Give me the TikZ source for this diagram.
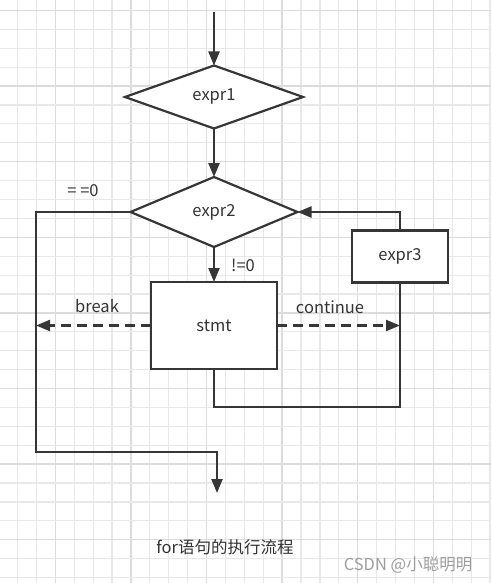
\documentclass[tikz,border=0pt]{standalone}
\usepackage{fontspec}
\setmainfont{Noto Sans CJK SC}
\usetikzlibrary{shapes.geometric,arrows.meta}

\definecolor{linegray}{HTML}{363636}
\definecolor{textgray}{HTML}{333333}
\definecolor{gridminor}{HTML}{E8E8E8}
\definecolor{gridmajor}{HTML}{DCDCDC}

\tikzset{
  flowline/.style={draw=linegray, line width=2.2pt},
  flowarrow/.style={flowline, -{Triangle[length=14pt,width=11pt]}},
  breakline/.style={flowarrow, dash pattern=on 10pt off 6pt},
  decision/.style={diamond, draw=linegray, line width=2.2pt, fill=white, inner sep=0pt, outer sep=0pt, text=textgray},
  stepbox/.style={rectangle, draw=linegray, line width=2.2pt, fill=white, inner sep=0pt, outer sep=0pt, text=textgray},
  tag/.style={text=textgray, inner sep=0pt}
}

\begin{document}
\begin{tikzpicture}[x=1pt, y=-1pt, font=\fontsize{16.5pt}{19pt}\selectfont]
  \useasboundingbox (0,0) rectangle (491,583);
  \fill[white] (0,0) rectangle (491,583);

  %	grid paper
  \foreach \k in {0,...,25} {
    \pgfmathparse{int(mod(\k,4))}
    \ifnum\pgfmathresult=2
      \draw[gridmajor, line width=1.4pt] ({17.5+18.9*\k}, 0) -- ({17.5+18.9*\k}, 583);
    \else
      \draw[gridminor, line width=1.2pt] ({17.5+18.9*\k}, 0) -- ({17.5+18.9*\k}, 583);
    \fi
  }
  \foreach \k in {0,...,30} {
    \pgfmathparse{int(mod(\k,4))}
    \ifnum\pgfmathresult=0
      \draw[gridmajor, line width=1.4pt] (0, {10.5+18.9*\k}) -- (491, {10.5+18.9*\k});
    \else
      \draw[gridminor, line width=1.2pt] (0, {10.5+18.9*\k}) -- (491, {10.5+18.9*\k});
    \fi
  }

  %	blocks
  \node[decision, minimum width=178pt, minimum height=63pt] (expr1) at (214, 97) {expr1};
  \node[decision, minimum width=167pt, minimum height=70pt] (expr2) at (214, 212) {expr2};
  \node[stepbox, minimum width=126pt, minimum height=87pt] (stmt) at (214, 325.5) {stmt};
  \node[stepbox, minimum width=96pt, minimum height=52pt] (expr3) at (400, 256.5) {expr3};

  \coordinate (entry) at (214, 12);
  \coordinate (exitcorner) at (36, 452);% bottom left corner
  \coordinate (exit) at (217, 493);

  %	main flow
  \draw[flowarrow] (entry) -- (expr1.north);
  \draw[flowarrow] (expr1.south) -- (expr2.north);
  \draw[flowarrow] (expr2.south) -- (stmt.north);

  %	loop back through expr3
  \draw[flowline] (stmt.south) -- ++(0, 38) -| (expr3.south);
  \draw[flowarrow] (expr3.north) |- (expr2.east);

  %	leaving the loop
  \draw[flowarrow] (expr2.west) -| (exitcorner) -| (exit);

  %	break and continue
  \draw[breakline] (stmt.west) -- (exitcorner |- stmt.west);
  \draw[breakline] (stmt.east) -- (expr3.south |- stmt.east);

  %	labels
  \node[tag] (zero) at (83, 191) {= =0};
  \node[tag] (nonzero) at (243, 265) {!=0};
  \node[tag] (brk) at (97, 306) {break};
  \node[tag] (cont) at (330, 307) {continue};
  \node[tag] (caption) at (225, 547) {for语句的执行流程};
  \node[text=black!38, inner sep=0pt] (mark) at (408, 565) {CSDN @小聪明明};
\end{tikzpicture}
\end{document}
